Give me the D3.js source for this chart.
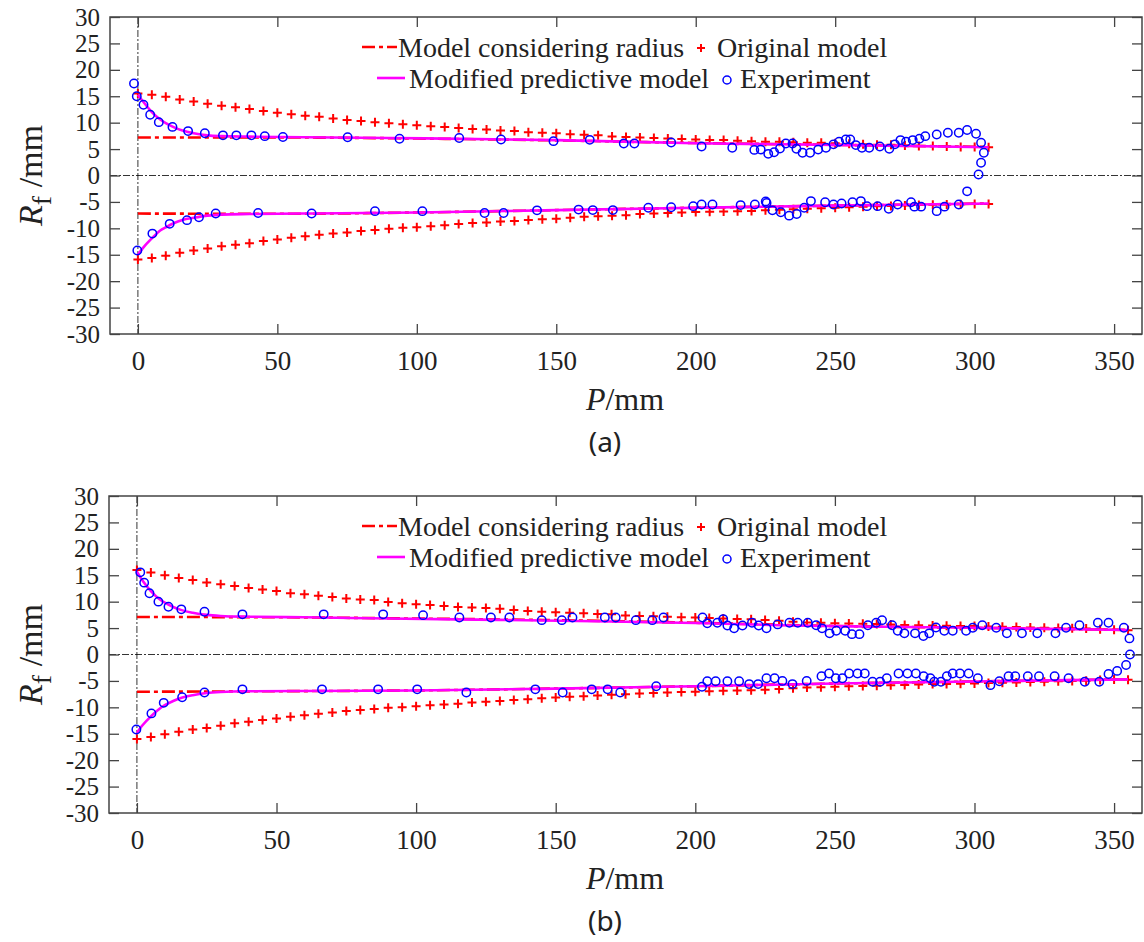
<!DOCTYPE html>
<html>
<head>
<meta charset="utf-8">
<script src="https://cdn.jsdelivr.net/npm/d3@7"></script>
<style>
  body { margin: 0; background: #fff; }
  text { font-family: "Liberation Serif", "Times New Roman", serif; fill: #222; }
</style>
</head>
<body>
<div id="chart"></div>
<script>
const W = 1144, H = 942;

// P positions (mm) of the "Original model" markers
const origPA = d3.range(0, 306, 5);
const origPB = d3.range(0, 356, 5);

// (a) Original model, upper and lower branch
const origAUpper = [15.5, 15.3, 14.9, 14.4, 14.0, 13.6, 13.2, 12.9, 12.6, 12.2, 11.9, 11.6, 11.3, 11.1, 10.8, 10.5,
  10.3, 10.1, 9.9, 9.7, 9.5, 9.3, 9.2, 9.0, 8.8, 8.7, 8.5, 8.4, 8.2, 8.1, 8.0, 7.8, 7.7, 7.6, 7.4, 7.3, 7.2, 7.1,
  7.0, 6.9, 6.8, 6.7, 6.7, 6.6, 6.5, 6.4, 6.4, 6.3, 6.2, 6.2, 6.1, 6.0, 5.9, 5.8, 5.8, 5.7, 5.6, 5.6, 5.5, 5.4, 5.4, 5.35];
const origALower = [-15.9, -15.6, -15.2, -14.6, -14.2, -13.8, -13.4, -13.1, -12.8, -12.4, -12.1, -11.8, -11.5, -11.2,
  -11.0, -10.8, -10.5, -10.3, -10.1, -9.9, -9.8, -9.6, -9.4, -9.2, -9.0, -8.9, -8.7, -8.6, -8.4, -8.3, -8.2, -8.0, -7.8,
  -7.7, -7.6, -7.5, -7.3, -7.2, -7.1, -7.0, -6.9, -6.85, -6.8, -6.75, -6.7, -6.6, -6.5, -6.4, -6.3, -6.2, -6.1, -6.0,
  -5.9, -5.8, -5.75, -5.7, -5.6, -5.55, -5.5, -5.45, -5.4, -5.4];

// (b) Original model
const origBUpper = [16.0, 15.5, 15.0, 14.5, 14.1, 13.65, 13.3, 12.95, 12.6, 12.3, 12.0, 11.6, 11.4, 11.1, 10.9, 10.6,
  10.4, 10.3, 9.95, 9.7, 9.5, 9.35, 9.2, 9.0, 8.9, 8.8, 8.65, 8.4, 8.25, 8.1, 8.0, 7.9, 7.8, 7.65, 7.6, 7.4, 7.3, 7.25,
  7.15, 7.05, 7.0, 6.9, 6.8, 6.7, 6.65, 6.55, 6.4, 6.2, 6.05, 6.0, 5.9, 5.85, 5.8, 5.75, 5.7, 5.6, 5.55, 5.5, 5.45, 5.4,
  5.4, 5.3, 5.25, 5.2, 5.1, 5.05, 5.0, 4.95, 4.9, 4.8, 4.7, 4.6];
const origBLower = [-16.0, -15.6, -15.1, -14.6, -14.2, -13.9, -13.5, -13.0, -12.75, -12.4, -12.1, -11.8, -11.5, -11.2,
  -11.0, -10.7, -10.5, -10.3, -10.1, -10.0, -9.8, -9.6, -9.45, -9.3, -9.1, -8.95, -8.8, -8.6, -8.45, -8.3, -8.15, -8.0,
  -7.9, -7.75, -7.6, -7.5, -7.4, -7.3, -7.2, -7.1, -7.05, -6.95, -6.85, -6.8, -6.75, -6.65, -6.55, -6.4, -6.25, -6.2,
  -6.1, -6.0, -5.95, -5.9, -5.8, -5.75, -5.7, -5.6, -5.6, -5.55, -5.5, -5.4, -5.35, -5.3, -5.2, -5.15, -5.05, -5.0,
  -4.95, -4.85, -4.75, -4.8];

// Model considering radius, [P, Rf]
const radiusAUpper = [[0, 7.2], [50, 7.2], [100, 7.0], [150, 6.65], [200, 6.15], [250, 5.8], [305, 5.4]];
const radiusALower = [[0, -7.2], [50, -7.25], [100, -7.0], [150, -6.55], [200, -6.1], [250, -5.7], [305, -5.3]];
const radiusBUpper = [[0, 7.1], [50, 7.05], [100, 6.8], [150, 6.5], [200, 6.0], [250, 5.4], [300, 5.05], [355, 4.65]];
const radiusBLower = [[0, -7.05], [50, -6.95], [100, -6.8], [150, -6.45], [200, -6.0], [250, -5.5], [300, -5.1], [355, -4.7]];

// Modified predictive model, [P, Rf]
const modAUpper = [[0, 15.3], [2, 13.9], [5, 12.0], [8, 10.6], [10, 9.9], [13, 9.1], [16, 8.5], [20, 8.0], [25, 7.6],
  [30, 7.45], [40, 7.35], [60, 7.25], [90, 7.1], [150, 6.7], [200, 6.1], [250, 5.8], [305, 5.35]];
const modALower = [[0, -15.0], [2, -13.6], [5, -11.9], [8, -10.4], [10, -9.8], [13, -9.0], [16, -8.4], [20, -8.0],
  [25, -7.6], [30, -7.4], [40, -7.3], [60, -7.2], [100, -7.0], [150, -6.55], [200, -6.1], [250, -5.7], [305, -5.3]];
const modBUpper = [[0, 15.7], [2, 14.0], [5, 12.0], [8, 10.5], [10, 9.8], [13, 9.0], [16, 8.4], [20, 7.9], [25, 7.5],
  [30, 7.3], [40, 7.15], [60, 7.05], [90, 6.8], [130, 6.55], [170, 6.25], [200, 5.95], [230, 5.55], [260, 5.3],
  [300, 5.05], [355, 4.65]];
const modBLower = [[0, -14.8], [2, -13.4], [5, -11.7], [8, -10.3], [10, -9.6], [13, -8.8], [16, -8.2], [20, -7.7],
  [25, -7.3], [30, -7.1], [40, -6.95], [60, -6.9], [100, -6.8], [150, -6.45], [200, -6.0], [250, -5.5], [300, -5.1],
  [355, -4.7]];

// Experiment, [P, Rf]
const expAUpper = [[-1.4, 17.4], [-0.4, 15.0], [2, 13.4], [4.4, 11.5], [7.5, 10.1], [12.4, 9.2], [18, 8.4], [24, 8.0],
  [30.5, 7.6], [35.3, 7.6], [40.7, 7.6], [45.5, 7.45], [52, 7.3], [75.2, 7.25], [93.8, 6.95], [115.2, 7.1], [130.2, 6.8],
  [149, 6.5], [162, 6.75], [174.2, 6.05], [178, 6.05], [191.2, 6.25], [202.1, 5.5], [213.1, 5.25], [221, 4.85],
  [223.3, 4.9], [226, 4.1], [228.1, 4.4], [230.2, 5.1], [232.3, 6.05], [234.7, 6.05], [236.1, 5.05], [238.3, 4.3],
  [241, 4.3], [243.9, 4.9], [246.7, 5.25], [249.4, 5.9], [251.4, 6.4], [253.8, 6.8], [255.4, 6.8], [257.4, 5.75],
  [259.6, 5.25], [262.2, 5.25], [266, 5.5], [269.4, 5.05], [271.4, 5.9], [273.4, 6.7], [275.4, 6.4], [277.8, 6.7],
  [280.2, 6.95], [282.3, 7.45], [286.4, 7.75], [290.4, 8.1], [294.3, 8.1], [297.3, 8.6], [300.5, 7.9], [302.3, 6.2],
  [303.3, 4.3], [302.3, 2.4], [301.4, 0.2], [297.3, -3.0]];
const expALower = [[-0.2, -14.2], [5.2, -11.0], [11.4, -9.15], [17.6, -8.45], [21.9, -7.9], [27.9, -7.2], [43.1, -7.1],
  [62.3, -7.2], [85, -6.75], [102, -6.75], [124.3, -7.1], [131.1, -7.1], [143.1, -6.6], [158, -6.45], [163.1, -6.55],
  [170.3, -6.55], [183, -6.1], [191.2, -6.0], [199.1, -5.8], [202.1, -5.5], [206, -5.5], [216.1, -5.6], [221.2, -5.5],
  [225.1, -4.9], [225.4, -5.2], [227.5, -6.6], [230.5, -6.95], [233.5, -7.6], [236.2, -7.3], [238.9, -6.1],
  [241.3, -4.85], [246.4, -5.05], [249.4, -5.5], [252.3, -5.3], [256.2, -5.05], [259.2, -4.85], [261.4, -5.8],
  [265.2, -5.8], [269.2, -6.3], [272.4, -5.5], [277.2, -5.05], [278.4, -5.9], [280.8, -5.9], [286.4, -6.75],
  [289.2, -5.9], [294.3, -5.5]];
const expBUpper = [[1.2, 15.55], [2.6, 13.6], [4.5, 11.6], [7.7, 10.0], [11.3, 9.05], [15.9, 8.55], [24.2, 8.1],
  [37.8, 7.6], [66.9, 7.6], [88.2, 7.6], [102.5, 7.45], [115.5, 7.0], [126.8, 7.0], [133.4, 7.0], [145, 6.5],
  [152.2, 6.5], [156, 7.0], [167.6, 7.0], [171.5, 7.0], [178.7, 6.5], [184.6, 6.5], [188.6, 7.0], [202.6, 7.0],
  [204.3, 5.9], [207.9, 6.0], [210, 6.7], [211.5, 5.5], [213.9, 4.95], [216.9, 5.5], [220.3, 6.0], [222.7, 5.5],
  [225.5, 4.95], [229.5, 5.7], [233.7, 6.0], [236.7, 6.0], [240.3, 6.0], [243.3, 5.55], [245.4, 4.95], [248.1, 4.0],
  [250.5, 4.5], [253.7, 4.5], [256.1, 3.85], [258.8, 3.85], [261.8, 5.55], [264.8, 6.0], [266.9, 6.5], [270.5, 5.55],
  [272.5, 4.5], [274.9, 4.0], [278.7, 4.0], [281.7, 3.5], [283.8, 4.0], [286.2, 5.1], [289.2, 4.5], [292.2, 4.5],
  [297, 4.5], [299.4, 5.05], [302.8, 5.55], [307.8, 5.05], [311.6, 4.0], [317, 4.0], [322.5, 4.0], [329, 4.0],
  [332.8, 5.05], [337.6, 5.55], [344.2, 6.0], [348, 6.0], [353.5, 5.05], [355.5, 3.05], [355.7, 0.0]];
const expBLower = [[-0.2, -14.2], [5.2, -11.15], [9.6, -9.15], [16.2, -8.1], [24.2, -7.2], [37.8, -6.6], [66.3, -6.6],
  [86.4, -6.6], [100.4, -6.6], [118, -7.2], [142.7, -6.6], [152.5, -7.2], [162.9, -6.6], [168.6, -6.6], [173.1, -7.2],
  [186, -6.0], [202.4, -6.1], [204.3, -5.05], [207.3, -5.05], [211.5, -5.05], [215.7, -5.05], [219.3, -5.6],
  [222.5, -5.6], [225.5, -4.5], [228.4, -4.5], [231.2, -5.0], [234.8, -5.6], [239.9, -5.0], [245.2, -4.1],
  [247.9, -3.6], [250.3, -4.5], [252.7, -4.5], [255.1, -3.6], [258.1, -3.6], [260.7, -3.6], [263.5, -5.15],
  [266.2, -5.15], [268.6, -4.5], [272.8, -3.6], [276, -3.6], [279, -3.6], [281.8, -4.1], [284.2, -4.5], [285.6, -5.15],
  [288, -5.15], [290.1, -4.1], [292.2, -3.6], [294.8, -3.6], [297.9, -3.6], [301.2, -4.5], [305.7, -5.8],
  [308.9, -5.05], [312.2, -4.1], [314.6, -4.1], [319.1, -4.1], [323.1, -4.1], [328.7, -4.1], [333.7, -4.5],
  [339.5, -5.15], [344.7, -5.15], [348, -3.7], [351.1, -3.1], [354.3, -2.0]];

const xTicks = [0, 50, 100, 150, 200, 250, 300, 350];
const yTicks = [-30, -25, -20, -15, -10, -5, 0, 5, 10, 15, 20, 25, 30];
const legendNames = ["Model considering radius", "Original model", "Modified predictive model", "Experiment"];

const RED = "#ff0000", MAGENTA = "#ff00ff", BLUE = "#0000ff";
const SERIF = "'Liberation Serif', 'Times New Roman', serif";

const svg = d3.select("#chart").append("svg")
  .attr("width", W).attr("height", H);

function plus(g, cx, cy, s) {
  g.append("path")
    .attr("d", `M${cx - s},${cy}H${cx + s}M${cx},${cy - s}V${cy + s}`)
    .attr("stroke", RED).attr("stroke-width", 2).attr("fill", "none");
}

function drawPanel(cfg) {
  const g = svg.append("g");
  const x = d3.scaleLinear().domain([-10, 360]).range([cfg.left, 1142]);
  const y = d3.scaleLinear().domain([-30, 30]).range([cfg.bottom, cfg.top]);

  // zero reference lines
  g.append("line")
    .attr("x1", x(-10)).attr("x2", x(360)).attr("y1", y(0)).attr("y2", y(0))
    .attr("stroke", "#000").attr("stroke-width", 0.8).attr("stroke-dasharray", "7,2,2,2");
  g.append("line")
    .attr("x1", x(0)).attr("x2", x(0)).attr("y1", y(30)).attr("y2", y(-30))
    .attr("stroke", "#000").attr("stroke-width", 0.8).attr("stroke-dasharray", "7,2,2,2");

  const line = d3.line().x(d => x(d[0])).y(d => y(d[1])).curve(d3.curveMonotoneX);

  // model considering radius
  [cfg.radUp, cfg.radLo].forEach(s => {
    g.append("path").attr("d", line(s)).attr("fill", "none")
      .attr("stroke", RED).attr("stroke-width", 2.6).attr("stroke-dasharray", "13,4,4,4");
  });

  // original model
  cfg.origUp.forEach((v, i) => plus(g, x(cfg.origP[i]), y(v), 4.5));
  cfg.origLo.forEach((v, i) => plus(g, x(cfg.origP[i]), y(v), 4.5));

  // modified predictive model
  [cfg.modUp, cfg.modLo].forEach(s => {
    g.append("path").attr("d", line(s)).attr("fill", "none")
      .attr("stroke", MAGENTA).attr("stroke-width", 2.6);
  });

  // experiment
  g.selectAll("circle.exp")
    .data(cfg.expUp.concat(cfg.expLo))
    .join("circle")
    .attr("class", "exp")
    .attr("cx", d => x(d[0])).attr("cy", d => y(d[1])).attr("r", 4.2)
    .attr("fill", "none").attr("stroke", BLUE).attr("stroke-width", 1.5);

  // axes (ticks inside, box on)
  const fmt = d => String(d);
  const axB = g.append("g").attr("transform", `translate(0,${cfg.bottom})`)
    .call(d3.axisBottom(x).tickValues(xTicks).tickSize(-10).tickPadding(17).tickFormat(fmt));
  const axT = g.append("g").attr("transform", `translate(0,${cfg.top})`)
    .call(d3.axisTop(x).tickValues(xTicks).tickSize(-10).tickFormat(""));
  const axL = g.append("g").attr("transform", `translate(${cfg.left},0)`)
    .call(d3.axisLeft(y).tickValues(yTicks).tickSize(-10).tickPadding(10).tickFormat(fmt));
  const axR = g.append("g").attr("transform", `translate(1142,0)`)
    .call(d3.axisRight(y).tickValues(yTicks).tickSize(-10).tickFormat(""));
  [axB, axT, axL, axR].forEach(a => {
    a.select(".domain").remove();
    a.selectAll("line").attr("stroke", "#444").attr("stroke-width", 1.3);
  });
  axB.selectAll("text").style("font-family", SERIF).style("font-size", "27px").style("fill", "#222");
  axL.selectAll("text").style("font-family", SERIF).style("font-size", "25px").style("fill", "#222");
  g.append("rect")
    .attr("x", cfg.left).attr("y", cfg.top)
    .attr("width", 1142 - cfg.left).attr("height", cfg.bottom - cfg.top)
    .attr("fill", "none").attr("stroke", "#444").attr("stroke-width", 1.5);

  // axis labels
  const yl = g.append("text")
    .attr("transform", `translate(42,${(cfg.top + cfg.bottom) / 2}) rotate(-90)`)
    .attr("text-anchor", "middle").attr("font-size", 34);
  yl.append("tspan").attr("font-style", "italic").text("R");
  yl.append("tspan").attr("font-size", 28).attr("dy", 9).text("f");
  yl.append("tspan").attr("dy", -9).text(" /mm");

  const xl = g.append("text")
    .attr("x", 625).attr("y", cfg.bottom + 76)
    .attr("text-anchor", "middle").attr("font-size", 32);
  xl.append("tspan").attr("font-style", "italic").text("P");
  xl.append("tspan").text("/mm");

  g.append("text")
    .attr("x", 605).attr("y", cfg.bottom + 118)
    .attr("text-anchor", "middle")
    .style("font-family", "'Noto Sans', 'Open Sans', sans-serif")
    .attr("font-size", 28).text(cfg.label);

  // legend
  const t = cfg.top;
  const lg = g.append("g").attr("font-size", 28);
  lg.append("line").attr("x1", 362).attr("x2", 397).attr("y1", t + 30).attr("y2", t + 30)
    .attr("stroke", RED).attr("stroke-width", 2.6).attr("stroke-dasharray", "13,4,4,4");
  lg.append("text").attr("x", 398).attr("y", t + 40).text(legendNames[0]);
  plus(lg, 701, t + 31, 4);
  lg.append("text").attr("x", 717).attr("y", t + 40).text(legendNames[1]);
  lg.append("line").attr("x1", 377).attr("x2", 405).attr("y1", t + 61).attr("y2", t + 61)
    .attr("stroke", MAGENTA).attr("stroke-width", 2.6);
  lg.append("text").attr("x", 409).attr("y", t + 71).text(legendNames[2]);
  lg.append("circle").attr("cx", 727).attr("cy", t + 63).attr("r", 4)
    .attr("fill", "none").attr("stroke", BLUE).attr("stroke-width", 1.5);
  lg.append("text").attr("x", 740).attr("y", t + 71).text(legendNames[3]);
}

drawPanel({
  top: 17, bottom: 334, left: 110, label: "(a)",
  origP: origPA, origUp: origAUpper, origLo: origALower,
  radUp: radiusAUpper, radLo: radiusALower,
  modUp: modAUpper, modLo: modALower,
  expUp: expAUpper, expLo: expALower
});
drawPanel({
  top: 496, bottom: 813, left: 109, label: "(b)",
  origP: origPB, origUp: origBUpper, origLo: origBLower,
  radUp: radiusBUpper, radLo: radiusBLower,
  modUp: modBUpper, modLo: modBLower,
  expUp: expBUpper, expLo: expBLower
});
</script>
</body>
</html>
